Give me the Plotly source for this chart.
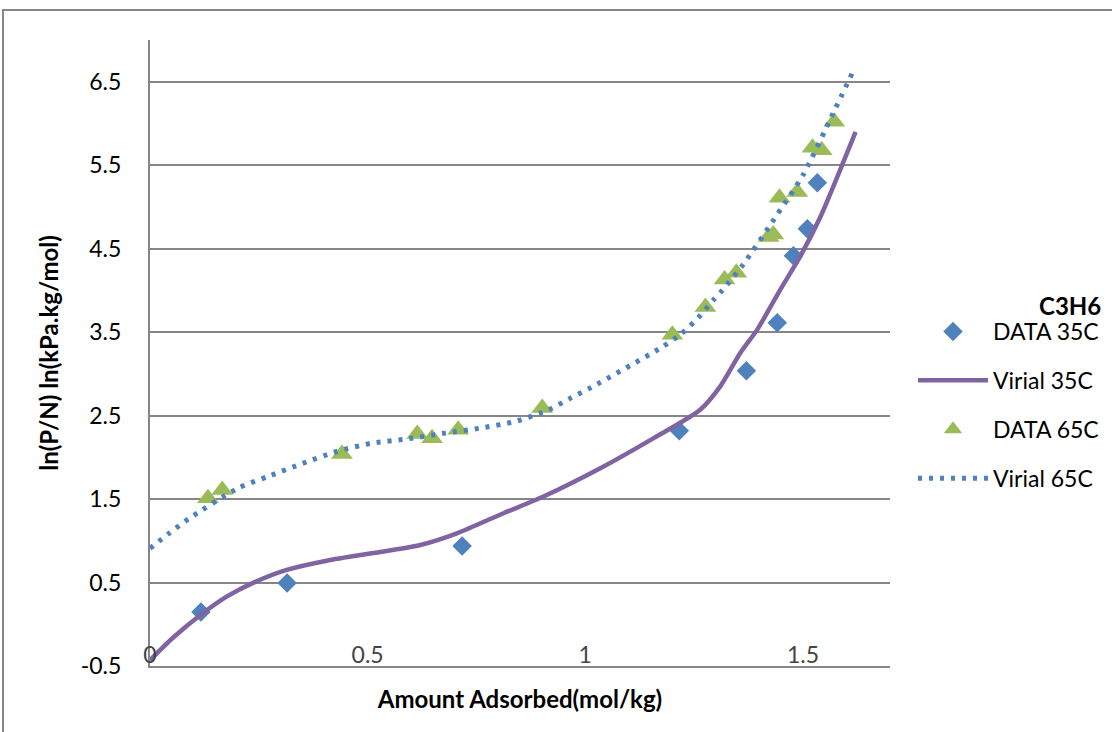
import plotly.graph_objects as go

# ---- data ----
data35_x = [0.117, 0.315, 0.717, 1.216, 1.370, 1.441, 1.478, 1.510, 1.533]
data35_y = [0.147, 0.495, 0.938, 2.317, 3.036, 3.611, 4.414, 4.738, 5.289]

data65_x = [0.133, 0.166, 0.441, 0.614, 0.648, 0.708, 0.901, 1.200, 1.276,
            1.320, 1.347, 1.421, 1.432, 1.446, 1.487, 1.522, 1.543, 1.572]
data65_y = [1.51, 1.61, 2.04, 2.28, 2.23, 2.33, 2.59, 3.47, 3.80,
            4.13, 4.21, 4.64, 4.67, 5.11, 5.18, 5.71, 5.68, 6.02]

vir35_x = [0.0, 0.054, 0.119, 0.176, 0.238, 0.314, 0.406, 0.529, 0.621, 0.705,
           0.812, 0.904, 1.042, 1.157, 1.264, 1.310, 1.356, 1.395, 1.448, 1.494,
           1.540, 1.586, 1.621]
vir35_y = [-0.43, -0.156, 0.123, 0.331, 0.499, 0.651, 0.762, 0.866, 0.95, 1.09,
           1.33, 1.53, 1.89, 2.23, 2.57, 2.85, 3.25, 3.53, 4.01, 4.41,
           4.88, 5.45, 5.90]

vir65_x = [0.0, 0.044, 0.088, 0.202, 0.276, 0.352, 0.429, 0.510, 0.590, 0.678,
           0.759, 0.839, 0.916, 0.963, 1.011, 1.176, 1.218, 1.259, 1.295, 1.313,
           1.364, 1.441, 1.501, 1.570, 1.614]
vir65_y = [0.91, 1.09, 1.26, 1.63, 1.78, 1.93, 2.07, 2.17, 2.22, 2.29,
           2.35, 2.43, 2.57, 2.70, 2.83, 3.32, 3.47, 3.67, 3.89, 3.99,
           4.32, 4.91, 5.39, 6.13, 6.61]

x_ticks = [0, 0.5, 1, 1.5]
x_labels = ["0", "0.5", "1", "1.5"]
y_ticks = [-0.5, 0.5, 1.5, 2.5, 3.5, 4.5, 5.5, 6.5]
y_labels = ["-0.5", "0.5", "1.5", "2.5", "3.5", "4.5", "5.5", "6.5"]

FONT = "Lato, 'Open Sans', sans-serif"
GRID = "#868686"

fig = go.Figure()
fig.add_trace(go.Scatter(
    x=data35_x, y=data35_y, mode="markers", name="DATA 35C", legendgroup="a",
    marker=dict(symbol="diamond", size=15, color="#4F81BD")))
fig.add_trace(go.Scatter(
    x=vir35_x, y=vir35_y, mode="lines", name="Virial 35C", legendgroup="b",
    line=dict(color="#8064A2", width=4.5, shape="spline", smoothing=0.7)))
fig.add_trace(go.Scatter(
    x=data65_x, y=data65_y, mode="markers", name="DATA 65C", legendgroup="c",
    marker=dict(symbol="triangle-up", size=19, color="#9BBB59")))
fig.add_trace(go.Scatter(
    x=vir65_x, y=vir65_y, mode="lines", name="Virial 65C", legendgroup="d",
    line=dict(color="#4F81BD", width=5, dash="4px,7px", shape="spline", smoothing=0.7)))

fig.update_layout(
    width=1112, height=732,
    margin=dict(l=150, r=222, t=40, b=66, autoexpand=False),
    paper_bgcolor="white", plot_bgcolor="white",
    font=dict(family=FONT, size=23, color="black"),
    showlegend=True,
    legend=dict(xref="container", yref="container",
                x=913 / 1112, y=1 - 405 / 732, xanchor="left", yanchor="middle",
                font=dict(family=FONT, size=23, color="black"),
                itemwidth=70,
                tracegroupgap=16, bgcolor="rgba(0,0,0,0)"),
    xaxis=dict(range=[0, 1.7], tickvals=x_ticks, ticktext=x_labels,
               showgrid=False, zeroline=False, showline=True, linecolor=GRID, linewidth=2,
               ticks="", ticklabelposition="inside", ticklabeloverflow="allow",
               tickfont=dict(family=FONT, size=23),
               title=dict(text="<b>Amount Adsorbed(mol/kg)</b>", standoff=24,
                          font=dict(family=FONT, size=24))),
    yaxis=dict(range=[-0.5, 7.0], tickvals=y_ticks, ticktext=y_labels,
               showgrid=True, gridcolor=GRID, gridwidth=1.5,
               zeroline=False, showline=True, linecolor=GRID, linewidth=2,
               ticks="", ticklabelstandoff=22,
               tickfont=dict(family=FONT, size=23),
               title=dict(text="<b>ln(P/N) ln(kPa.kg/mol)</b>", standoff=15,
                          font=dict(family=FONT, size=24))),
    shapes=[dict(type="rect", xref="paper", yref="paper",
                 x0=(3 - 150) / 740, x1=(1130 - 150) / 740,
                 y0=(666 - 750) / 626, y1=(666 - 10) / 626,
                 line=dict(color=GRID, width=2), layer="below")],
    annotations=[dict(text="<b>C3H6</b>", xref="paper", yref="paper",
                      x=(1103 - 150) / 740, y=(666 - 305) / 626,
                      xanchor="right", yanchor="middle", showarrow=False,
                      font=dict(family=FONT, size=24, color="black"))],
)

fig.write_html("out.html")
